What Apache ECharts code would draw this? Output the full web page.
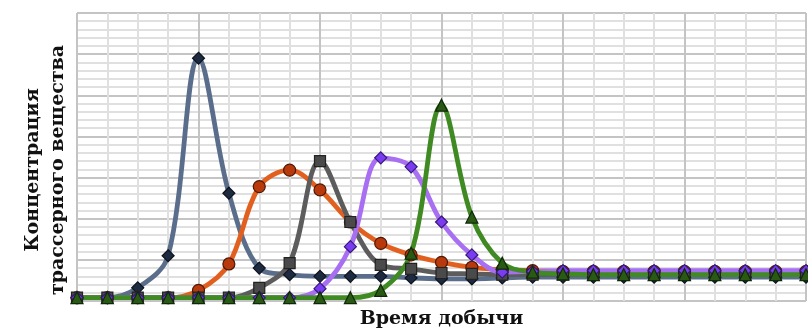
<!DOCTYPE html>
<html>
<head>
<meta charset="utf-8">
<script src="https://cdn.jsdelivr.net/npm/echarts@6/dist/echarts.min.js"></script>
<style>html,body{margin:0;padding:0;background:#fff}#c{width:808px;height:331px}</style>
</head>
<body>
<div id="c"></div>
<script>
const xValues = [0,1,2,3,4,5,6,7,8,9,10,11,12,13,14,15,16,17,18,19,20,21,22,23,24];
const blueSeries   = [0.4,0.4,1.6,5.5,29.5,13.1,4.0,3.2,3.0,3.0,3.0,2.8,2.7,2.7,2.8,2.9,2.9,2.9,2.9,2.9,2.9,2.9,2.9,2.9,2.9];
const orangeSeries = [0.4,0.4,0.4,0.4,1.3,4.5,13.9,15.9,13.5,9.6,7.0,5.6,4.7,4.1,3.8,3.7,3.6,3.6,3.6,3.6,3.6,3.6,3.6,3.6,3.6];
const graySeries   = [0.4,0.4,0.4,0.4,0.4,0.4,1.6,4.6,17.0,9.6,4.4,3.9,3.4,3.3,3.2,3.2,3.2,3.2,3.2,3.2,3.2,3.2,3.2,3.2,3.2];
const purpleSeries = [0.4,0.4,0.4,0.4,0.4,0.4,0.4,0.4,1.5,6.6,17.4,16.3,9.6,5.6,3.5,3.6,3.7,3.7,3.7,3.7,3.7,3.7,3.7,3.7,3.7];
const greenSeries  = [0.4,0.4,0.4,0.4,0.4,0.4,0.4,0.4,0.4,0.4,1.3,5.8,23.8,10.2,4.6,3.5,3.3,3.2,3.2,3.2,3.2,3.2,3.2,3.2,3.2];
const xAxisTitle = 'Время добычи';
const yAxisTitle = 'Концентрация\nтрассерного вещества';

const pairs = arr => xValues.map((x, i) => [x, arr[i]]);
const mk = (data, lineColor, symbol, fill, border, size) => ({
  type: 'line', data: pairs(data), smooth: 0.35, symbol: symbol, symbolSize: size,
  showAllSymbol: true,
  lineStyle: { color: lineColor, width: 4.8 },
  itemStyle: { color: fill, borderColor: border, borderWidth: 1.2 },
  emphasis: { disabled: true }, z: 2
});

const chart = echarts.init(document.getElementById('c'), null, { renderer: 'canvas' });
chart.setOption({
  animation: false,
  grid: { left: 77, right: 2, top: 13, bottom: 30, containLabel: false, outerBoundsMode: 'none' },
  xAxis: {
    type: 'value', min: 0, max: 24, interval: 4,
    axisLine: { show: false }, axisTick: { show: false }, axisLabel: { show: false },
    splitLine: { show: true, lineStyle: { color: '#c4c4c4', width: 2 } },
    minorTick: { show: false, splitNumber: 4 },
    minorSplitLine: { show: true, lineStyle: { color: '#e0e0e0', width: 2 } },
    name: xAxisTitle, nameLocation: 'middle', nameGap: 9,
    nameTextStyle: { fontFamily: 'DejaVu Serif', fontWeight: 'bold', fontSize: 19, color: '#111',
      verticalAlign: 'top' }
  },
  yAxis: {
    type: 'value', min: 0, max: 35, interval: 5,
    axisLine: { show: false }, axisTick: { show: false }, axisLabel: { show: false },
    splitLine: { show: true, lineStyle: { color: '#c4c4c4', width: 2 } },
    minorTick: { show: false, splitNumber: 5 },
    minorSplitLine: { show: true, lineStyle: { color: '#e0e0e0', width: 2 } }
  },
  graphic: [{
    type: 'text', x: 46, y: 170, rotation: Math.PI / 2,
    style: { text: yAxisTitle, fontFamily: 'DejaVu Serif', fontWeight: 'bold', fontSize: 19,
      fill: '#111', align: 'center', verticalAlign: 'middle', lineHeight: 25 }
  }],
  series: [
    mk(blueSeries, '#5a6d8b', 'diamond', '#1d2a3f', '#0d1420', 12),
    mk(orangeSeries, '#e2601f', 'circle', '#b8390c', '#4f1805', 12),
    mk(graySeries, '#5c5c5c', 'rect', '#4a4a4a', '#222222', 11),
    mk(purpleSeries, '#a86ff2', 'diamond', '#7a3cf0', '#361878', 12),
    mk(greenSeries, '#3f8a22', 'triangle', '#295a14', '#10280a', 12)
  ]
});
</script>
</body>
</html>
